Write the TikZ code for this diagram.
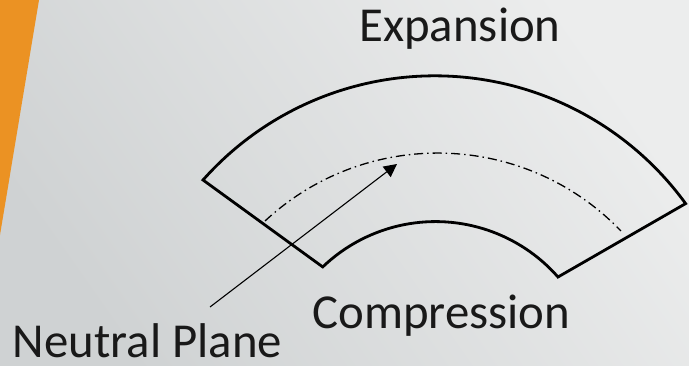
\documentclass[tikz,border=0pt]{standalone}
\usepackage{fontspec}
\setmainfont{Carlito}
\usetikzlibrary{arrows.meta, calc}
\definecolor{SLDorange}{HTML}{EB9223}
\definecolor{SLDlight}{HTML}{ECEDED}
\definecolor{SLDmid}{HTML}{E4E6E6}
\definecolor{SLDdark}{HTML}{CFD2D3}
\begin{document}
\begin{tikzpicture}[x=1pt, y=1pt,
      beam/.style={black, line width=2.8pt, line join=miter},
      neutral/.style={black, line width=1.3pt, dash pattern=on 9pt off 4pt on 1.5pt off 4pt},
      arr/.style={-{Triangle[length=13pt, width=13pt]}, black, line width=1.1pt},
      lab/.style={font=\fontsize{48.8}{48.8}\selectfont, text=black!90, inner sep=0pt, anchor=base}]
      \useasboundingbox (0,0) rectangle (689,365);
      % Background
      \shade[top color=SLDlight, middle color=SLDmid, bottom color=SLDdark, shading angle=-55] (0,0) rectangle (689,365);
      \fill[SLDorange] (0,365) -- (39,365) -- (0,130) -- cycle;
      % Beam outline
      \draw[beam] (203,185) arc[start angle=138.4, end angle=36, radius=310]
         -- (558,88) arc[start angle=41.3, end angle=133.8, radius=163] -- cycle;
      % Neutral axis
      \draw[neutral] (265,144) arc[start angle=132.9, end angle=43.9, radius=254];
      % Pointer
      \coordinate (tail) at (210,58);
      \coordinate (tip) at (397,201);
      \draw[arr] (tail) -- (tip);
      % Labels
      \node[lab] (exp) at (460,323) {Expansion};
      \node[lab] (comp) at (441.5,37) {Compression};
      \node[lab] (np) at (147.5,8) {Neutral Plane};
   \end{tikzpicture}
\end{document}
